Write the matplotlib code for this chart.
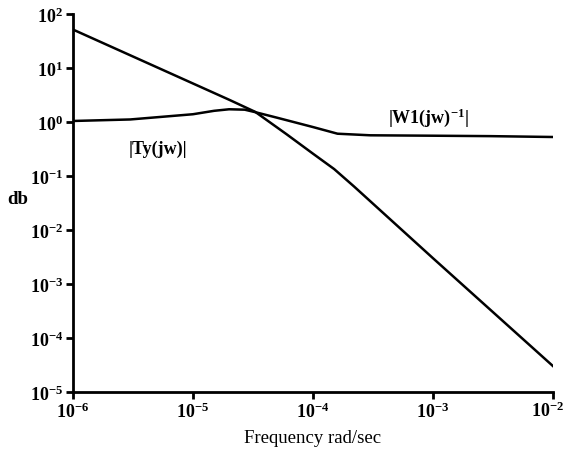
#!/usr/bin/env python3

import matplotlib
matplotlib.use('Agg')
import matplotlib.pyplot as plt

# frequency (rad/sec) and magnitudes
freq_a = [1e-6, 1e-5, 2e-5, 3.3e-5, 6e-5, 1e-4, 1.5e-4, 2.2e-4, 1e-3, 1e-2]
mag_a = [52, 5.2, 2.6, 1.55, 0.6, 0.26, 0.135, 0.064, 3.0e-3, 3.0e-5]

freq_b = [1e-6, 3e-6, 1e-5, 1.5e-5, 2e-5, 2.7e-5, 3.3e-5, 5e-5, 1e-4,
          1.6e-4, 3e-4, 1e-3, 3e-3, 1e-2]
mag_b = [1.05, 1.12, 1.4, 1.62, 1.73, 1.70, 1.53, 1.21, 0.81,
         0.61, 0.57, 0.56, 0.55, 0.53]

xtick_exps = [-6, -5, -4, -3, -2]
ytick_exps = [-5, -4, -3, -2, -1, 0, 1, 2]

label_ty = '|Ty(jw)|'
label_w1 = r'|W1(jw)$^{-1}$|'


def pow_label(e):
    return r'$10^{%d}$' % e


def main():
    plt.rcParams['font.family'] = ['Liberation Serif', 'DejaVu Serif']
    plt.rcParams['mathtext.fontset'] = 'custom'
    plt.rcParams['mathtext.rm'] = 'Liberation Serif:bold'
    plt.rcParams['mathtext.default'] = 'rm'

    fig = plt.figure(figsize=(5.65, 4.60), dpi=100)
    ax = fig.add_axes([0.129, 0.1457, 0.850, 0.8213])

    ax.plot(freq_a, mag_a, color='black', lw=1.8)
    ax.plot(freq_b, mag_b, color='black', lw=1.8)

    ax.set_xscale('log')
    ax.set_yscale('log')
    ax.set_xlim(1e-6, 1e-2)
    ax.set_ylim(1e-5, 1e2)
    ax.minorticks_off()

    xticks = [10.0 ** e for e in xtick_exps]
    yticks = [10.0 ** e for e in ytick_exps]
    ax.set_yticks(yticks, labels=[pow_label(e) for e in ytick_exps])
    # last x label sits flush with the right edge, as in the original
    ax.set_xticks(xticks,
                  labels=[pow_label(e) for e in xtick_exps[:-1]] + [''])
    ax.annotate(pow_label(xtick_exps[-1]), xy=(xticks[-1], 0),
                xycoords=('data', 'axes fraction'),
                xytext=(11, -9), textcoords='offset pixels',
                ha='right', va='top', fontsize=13)

    for side in ('top', 'right'):
        ax.spines[side].set_visible(False)
    for side in ('left', 'bottom'):
        ax.spines[side].set_linewidth(2.0)
    ax.tick_params(direction='out', length=5, width=2.0, labelsize=13,
                   pad=2)

    ax.text(2.9e-6, 0.32, label_ty, fontsize=13, fontweight='bold',
            ha='left', va='center')
    ax.text(4.2e-4, 1.24, label_w1, fontsize=13, fontweight='bold',
            ha='left', va='center')

    ax.set_xlabel('Frequency rad/sec', fontsize=13.5, labelpad=6)
    ax.set_ylabel('db', fontsize=13.5, fontweight='bold', rotation=0)
    ax.yaxis.set_label_coords(-0.115, 0.49)

    fig.savefig('out.png')


if __name__ == "__main__":
    main()
